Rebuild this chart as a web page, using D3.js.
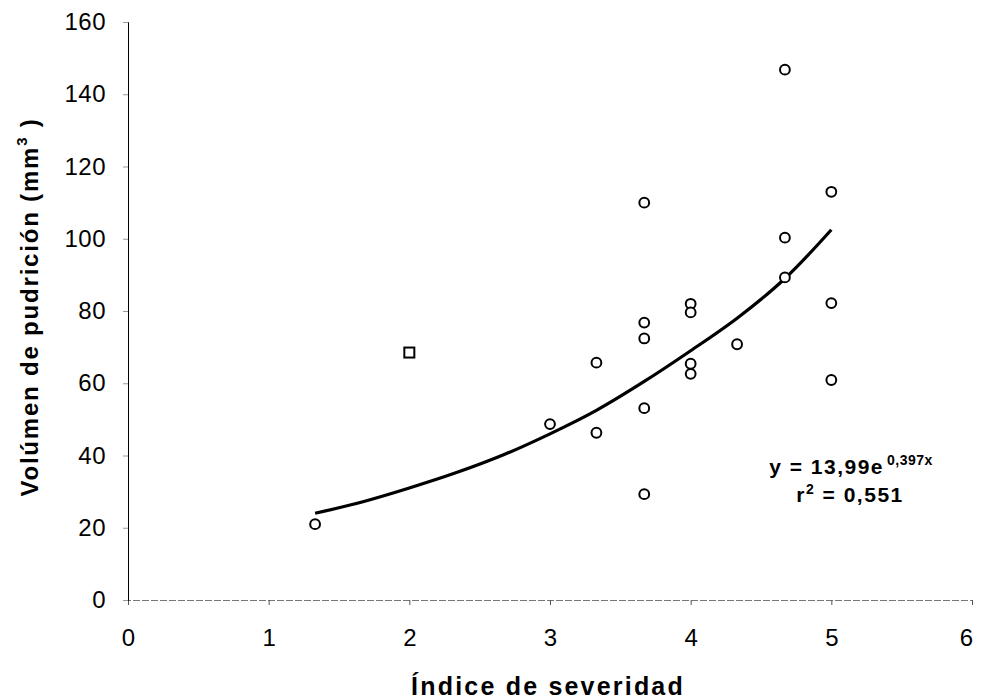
<!DOCTYPE html>
<html>
<head>
<meta charset="utf-8">
<script src="https://cdn.jsdelivr.net/npm/d3@7"></script>
<style>
  body { margin: 0; background: #fff; }
  text { font-family: "Liberation Sans", Arial, sans-serif; }
</style>
</head>
<body>
<div id="chart"></div>
<script>
// Observed points (severity index, rot volume)
const severity = [1.33, 3, 3.33, 3.33, 3.67, 3.67, 3.67, 3.67, 3.67,
                  4, 4, 4, 4, 4.33, 4.67, 4.67, 4.67, 5, 5, 5];
const volume = [21, 48.7, 65.7, 46.3, 110, 76.8, 72.4, 53.1, 29.3,
                82, 79.6, 65.4, 62.6, 70.8, 146.8, 100.3, 89.3, 113, 82.2, 60.9];

// The single square marker
const squareX = [2];
const squareY = [68.5];

// Trend curve
const trendX = [1.33, 1.67, 2, 2.33, 2.67, 3, 3.33, 3.67, 4, 4.33, 4.67, 5];
const trendY = [24, 27.2, 31, 35.2, 40.2, 46, 52.5, 60.5, 69, 78, 89, 102.5];

const xTicks = [0, 1, 2, 3, 4, 5, 6];
const yTicks = [0, 20, 40, 60, 80, 100, 120, 140, 160];

const margin = { top: 22, right: 14, bottom: 99, left: 128 },
    width = 986 - margin.left - margin.right,
    height = 699 - margin.top - margin.bottom;

const svg = d3.select("#chart")
    .append("svg")
    .attr("width", 986)
    .attr("height", 699)
    .append("g")
    .attr("transform", `translate(${margin.left},${margin.top})`);

const x = d3.scaleLinear().domain([0, 6]).range([0, width]);
const y = d3.scaleLinear().domain([0, 160]).range([height, 0]);

// X axis: grey dotted baseline with small ticks
const xAxis = svg.append("g")
    .attr("transform", `translate(0,${height})`)
    .call(d3.axisBottom(x).tickValues(xTicks).tickFormat(d3.format("d"))
        .tickSize(5).tickPadding(24));
xAxis.select(".domain")
    .attr("stroke", "#777")
    .attr("stroke-dasharray", "7,2");
xAxis.selectAll(".tick line").attr("stroke", "#555");
xAxis.selectAll(".tick text")
    .attr("font-size", 24)
    .attr("fill", "#000");
xAxis.selectAll(".tick").filter(d => d === 6)
    .select("text").attr("dx", -6);

// Y axis: thin black line with faint ticks
const yAxis = svg.append("g")
    .call(d3.axisLeft(y).tickValues(yTicks).tickFormat(d3.format("d"))
        .tickSize(5).tickPadding(17));
yAxis.select(".domain").attr("stroke", "#000");
yAxis.selectAll(".tick line").attr("stroke", "#999");
yAxis.selectAll(".tick text")
    .attr("font-size", 24)
    .attr("letter-spacing", 0.5)
    .attr("fill", "#000");

// Axis titles
svg.append("text")
    .attr("x", width / 2 - 2)
    .attr("y", height + 95)
    .attr("text-anchor", "middle")
    .attr("font-size", 25)
    .attr("font-weight", "bold")
    .attr("letter-spacing", 2.2)
    .text("Índice de severidad");

const yTitle = svg.append("text")
    .attr("transform", `translate(${-90},${height / 2 - 4}) rotate(-90)`)
    .attr("text-anchor", "middle")
    .attr("font-size", 24)
    .attr("font-weight", "bold")
    .attr("letter-spacing", 1.8);
yTitle.append("tspan").text("Volúmen de pudrición (mm");
yTitle.append("tspan").attr("font-size", 15).attr("dy", -11).text("3");
yTitle.append("tspan").attr("dy", 11).text(" )");

// Trend curve
const trend = trendX.map((d, i) => [d, trendY[i]]);
svg.append("path")
    .datum(trend)
    .attr("fill", "none")
    .attr("stroke", "#000")
    .attr("stroke-width", 3.2)
    .attr("d", d3.line()
        .x(d => x(d[0]))
        .y(d => y(d[1]))
        .curve(d3.curveCatmullRom));

// Circle markers
const points = severity.map((d, i) => ({ sx: d, vol: volume[i] }));
svg.selectAll("circle.pt")
    .data(points)
    .enter()
    .append("circle")
    .attr("class", "pt")
    .attr("cx", d => x(d.sx))
    .attr("cy", d => y(d.vol))
    .attr("r", 4.9)
    .attr("fill", "#fff")
    .attr("stroke", "#000")
    .attr("stroke-width", 2);

// Square marker
svg.selectAll("rect.sq")
    .data(squareX.map((d, i) => ({ sx: d, vol: squareY[i] })))
    .enter()
    .append("rect")
    .attr("class", "sq")
    .attr("x", d => x(d.sx) - 5)
    .attr("y", d => y(d.vol) - 5)
    .attr("width", 10)
    .attr("height", 10)
    .attr("fill", "#fff")
    .attr("stroke", "#000")
    .attr("stroke-width", 2);

// Equation label
const eq = svg.append("text")
    .attr("x", 851 - margin.left)
    .attr("y", 474 - margin.top)
    .attr("text-anchor", "middle")
    .attr("font-size", 21)
    .attr("font-weight", "bold")
    .attr("letter-spacing", 1.5);
eq.append("tspan").text("y = 13,99e");
eq.append("tspan").attr("font-size", 14).attr("dy", -9).attr("dx", 3)
    .attr("letter-spacing", 0.5).text("0,397x");

const r2 = svg.append("text")
    .attr("x", 850 - margin.left)
    .attr("y", 502 - margin.top)
    .attr("text-anchor", "middle")
    .attr("font-size", 21)
    .attr("font-weight", "bold")
    .attr("letter-spacing", 1.5);
r2.append("tspan").text("r");
r2.append("tspan").attr("font-size", 14).attr("dy", -8).text("2");
r2.append("tspan").attr("dy", 8).text(" = 0,551");
</script>
</body>
</html>
